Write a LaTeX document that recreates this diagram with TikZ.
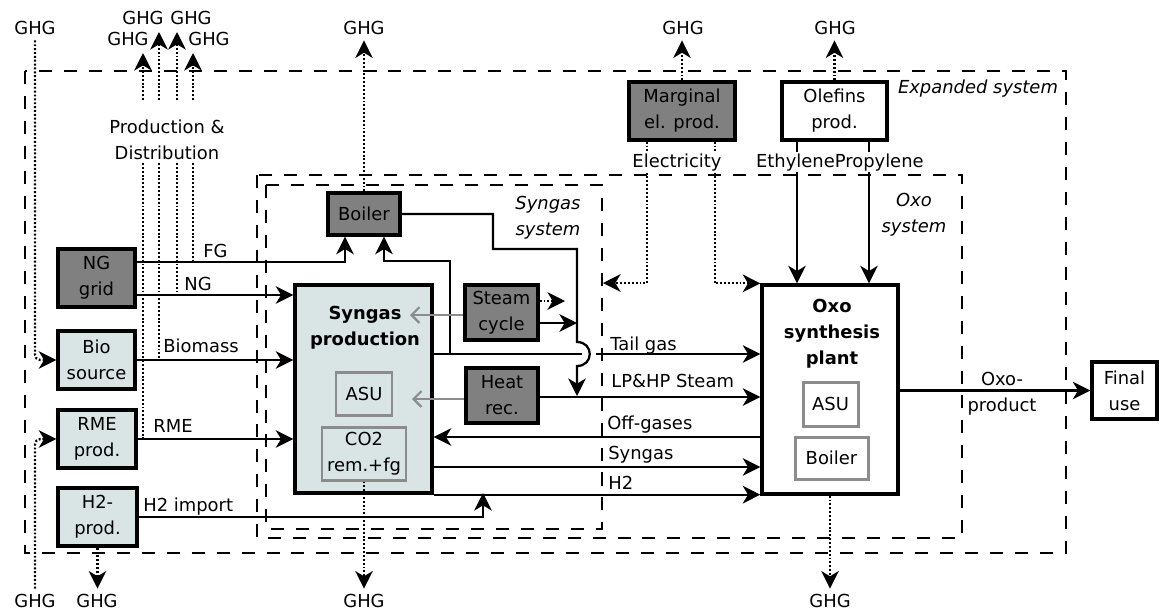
\documentclass[tikz,border=0pt]{standalone}
\usepackage{fontspec}
\setmainfont{DejaVu Sans}
\usetikzlibrary{arrows.meta}
\definecolor{dgray}{RGB}{128,128,128}
\definecolor{lfill}{RGB}{217,229,229}
\definecolor{igray}{RGB}{140,140,140}
\newcommand\fs{\fontsize{10.2}{14.8}\selectfont}
% \mybox{name}{style}{x1}{y1}{x2}{y2}{text}
\newcommand\mybox[7]{%
  \node[#2, minimum width={(#5-#3)*0.02cm}, minimum height={(#6-#4)*0.02cm}]
    (#1) at ({(#3+#5)/2},{(#4+#6)/2}) {#7};}
\begin{document}
\begin{tikzpicture}[x=0.02cm,y=-0.02cm,
  every node/.style={font=\fs},
  nbox/.style={draw, line width=1.9pt, inner sep=0pt, align=center},
  dbox/.style={nbox, fill=dgray},
  lbox/.style={nbox, fill=lfill},
  wbox/.style={nbox, fill=white},
  ibox/.style={draw=igray, line width=1.7pt, inner sep=0pt, align=center},
  sysbox/.style={line width=1.5pt, dash pattern=on 7.4pt off 6.8pt},
  flow/.style={line width=1.3pt, -{Stealth[length=10pt,width=10pt,inset=3pt]}},
  dotline/.style={line width=1.3pt, dash pattern=on 1.1pt off 1.1pt},
  dotflow/.style={dotline, -{Stealth[length=10pt,width=10pt,inset=3pt]}},
  garrow/.style={line width=1.3pt, draw=igray, -{Straight Barb[length=4.5pt,width=9pt]}},
  ghg/.style={inner sep=3pt},
  lbl/.style={inner sep=0pt, anchor=base west},
  sys/.style={font=\fs\itshape, align=center},
]
\useasboundingbox (0,0) rectangle (1159,613);

% system boundaries
\draw[sysbox] (25,71) rectangle (1066,553);
\draw[sysbox] (257,175) rectangle (962,538);
\draw[sysbox] (266,185) rectangle (602,529);

% boxes
\mybox{ng}{dbox}{58}{249}{135}{307}{NG\\grid}
\mybox{bio}{lbox}{58}{331}{135}{389}{Bio\\source}
\mybox{rme}{lbox}{58}{410}{136}{468}{RME\\prod.}
\mybox{h2p}{lbox}{58}{488}{137}{546}{H2-\\prod.}
\mybox{sp}{lbox}{295}{285}{432}{493}{}
\node[font=\fs\bfseries, align=center] (spt) at (365,328) {Syngas\\production};
\mybox{asu1}{ibox}{336}{372}{392}{415}{ASU}
\mybox{co2}{ibox}{322}{427}{406}{480}{CO2\\rem.+fg}
\mybox{boiler}{dbox}{328}{193}{400}{235}{Boiler}
\mybox{steam}{dbox}{465}{285}{538}{340}{Steam\\cycle}
\mybox{heat}{dbox}{466}{368}{538}{423}{Heat\\rec.}
\mybox{marg}{dbox}{629}{82}{735}{140}{Marginal\\el. prod.}
\mybox{ole}{wbox}{782}{82}{887}{140}{Olefins\\prod.}
\mybox{ox}{wbox}{762}{285}{898}{494}{}
\node[font=\fs\bfseries, align=center] (oxt) at (832,334) {Oxo\\synthesis\\plant};
\mybox{asu2}{ibox}{803}{382}{858}{426}{ASU}
\mybox{boil2}{ibox}{795}{437}{868}{479}{Boiler}
\mybox{fin}{wbox}{1092}{362}{1157}{419}{Final\\use}

% GHG labels
\node[ghg] (g1) at (35,28) {GHG};
\node[ghg] (g2) at (35,601) {GHG};
\node[ghg] (g3) at (97,601) {GHG};
\node[ghg] (g4) at (364,601) {GHG};
\node[ghg] (g5) at (830,601) {GHG};
\node[ghg] (g6) at (683,28) {GHG};
\node[ghg] (g7) at (835,28) {GHG};
\node[ghg] (g8) at (364,28) {GHG};
\node[ghg] (g9) at (143,18) {GHG};
\node[ghg] (g10) at (191,18) {GHG};
\node[ghg] (g11) at (128,39) {GHG};
\node[ghg] (g12) at (209,39) {GHG};

% coordinates
\coordinate (elsys) at (603,283);
\coordinate (tg) at (450,354);
\coordinate (h2j) at (483,493);

% feed flows
\draw[flow] (ng.east |- 0,262) -| (boiler.south -| 345,0);
\draw[flow] (ng.east |- 0,295) -- (sp.west |- 0,295);
\draw[flow] (bio.east) -- (bio.east -| sp.west);
\draw[flow] (rme.east) -- (rme.east -| sp.west);
\draw[flow] (h2p.east) -| (h2j);

% syngas system internal
\draw[flow] (tg) |- (384,261) -- (boiler.south -| 384,0);
\draw[flow] (boiler.east) -- (493,214) -- (493,249) -- (577,249) -- (577,342)
  .. controls (594,342) and (594,366) .. (577,366) -- (577,396);
\draw[flow] (steam.east |- 0,323) -- (577,323);
\draw[dotflow] (steam.east |- 0,301) -- (565,301);
\draw[garrow] (steam.west |- 0,315) -- (410,315);
\draw[garrow] (heat.west |- 0,399) -- (412,399);

% flows to/from oxo plant
\draw[flow] (sp.east |- 0,354) -- (582,354) (596,354) -- (ox.west |- 0,354);
\draw[flow] (heat.east |- 0,397) -- (ox.west |- 0,397);
\draw[flow] (ox.west |- 0,437) -- (sp.east |- 0,437);
\draw[flow] (sp.east |- 0,467) -- (ox.west |- 0,467);
\draw[flow] (sp.south east) -- (ox.west |- sp.south east);
\draw[flow] (ox.east |- fin.west) -- (fin.west);

% olefins and electricity
\draw[flow] (ole.south -| 797,0) -- (ox.north -| 797,0);
\draw[flow] (ole.south -| 869,0) -- (ox.north -| 869,0);
\draw[dotflow] (marg.south -| 647,0) |- (elsys);
\draw[dotflow] (marg.south -| 715,0) |- (ox.north west);

% GHG emissions
\draw[dotflow, rounded corners=3pt] (g1.south) |- (bio.west);
\draw[dotflow, rounded corners=3pt] (g2.north) |- (rme.west);
\draw[dotflow] (h2p.south) -- (h2p.south |- g3.north);
\draw[dotflow] (co2.south) -- (co2.south |- g4.north);
\draw[dotflow] (ox.south) -- (ox.south |- g5.north);
\draw[dotflow] (marg.north) -- (marg.north |- g6.south);
\draw[dotflow] (ole.north) -- (ole.north |- g7.south);
\draw[dotflow] (boiler.north) -- (boiler.north |- g8.south);

% production & distribution
\draw[dotline] (143,163) -- (143,439);
\draw[dotline] (159,163) -- (159,360);
\draw[dotline] (177,163) -- (177,295);
\draw[dotline] (193,163) -- (193,262);
\draw[dotflow] (143,100) -- (143,53);
\draw[dotflow] (159,100) -- (159,32);
\draw[dotflow] (177,100) -- (177,32);
\draw[dotflow] (193,100) -- (193,53);
\node[align=center] (lpd) at (167,140) {Production \&\\Distribution};

% flow labels
\node[lbl] (lfg) at (203,257) {FG};
\node[lbl] (lng) at (184,290) {NG};
\node[lbl] (lbm) at (163,352) {Biomass};
\node[lbl] (lrme) at (153,432) {RME};
\node[lbl] (lh2i) at (143,511) {H2 import};
\node[lbl] (ltg) at (610,350) {Tail gas};
\node[lbl] (llp) at (611,387) {LP\&HP Steam};
\node[lbl] (loff) at (607,429) {Off-gases};
\node[lbl] (lsyn) at (608,459) {Syngas};
\node[lbl] (lh2) at (608,489) {H2};
\node[fill=white, inner sep=1pt, anchor=base] (lel) at (677,167) {Electricity};
\node[fill=white, inner sep=1pt, anchor=base west] (leth) at (754,167) {EthylenePropylene};
\node[align=center] (lop) at (1002,394) {Oxo-\\product};

% system labels
\node[sys] (sgs) at (548,218) {Syngas\\system};
\node[sys] (oxs) at (914,215) {Oxo\\system};
\node[sys] (exs) at (978,89) {Expanded system};
\end{tikzpicture}
\end{document}
